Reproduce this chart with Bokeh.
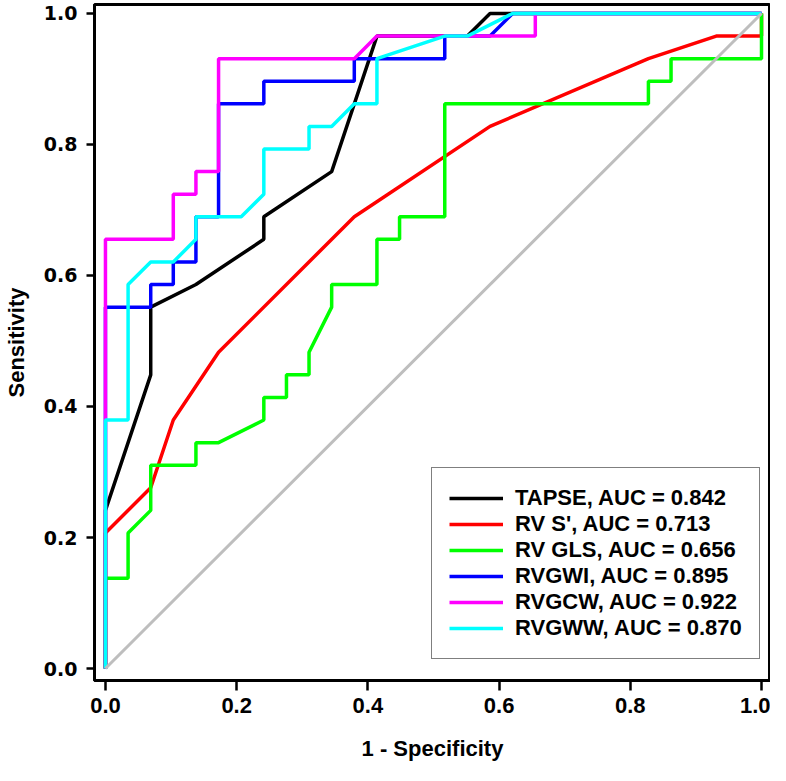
from bokeh.plotting import figure
from bokeh.models import Legend, LegendItem, FixedTicker, Range1d, PrintfTickFormatter
from bokeh.embed import file_html
from bokeh.resources import INLINE

# ---- data ----
tapse_fpr = [0.0, 0.0, 0.069, 0.069, 0.1379, 0.2414, 0.2414, 0.3448, 0.4138, 0.5517, 0.5862, 1.0]
tapse_tpr = [0.0, 0.2414, 0.4483, 0.5517, 0.5862, 0.6552, 0.6897, 0.7586, 0.9655, 0.9655, 1.0, 1.0]

rvs_fpr = [0.0, 0.0, 0.069, 0.1034, 0.1724, 0.3793, 0.5862, 0.8276, 0.931, 1.0, 1.0]
rvs_tpr = [0.0, 0.2069, 0.2759, 0.3793, 0.4828, 0.6897, 0.8276, 0.931, 0.9655, 0.9655, 1.0]

gls_fpr = [0.0, 0.0, 0.0345, 0.0345, 0.069, 0.069, 0.1379, 0.1379, 0.1724, 0.2414, 0.2414,
           0.2759, 0.2759, 0.3103, 0.3103, 0.3448, 0.3448, 0.4138, 0.4138, 0.4483, 0.4483,
           0.5172, 0.5172, 0.8276, 0.8276, 0.8621, 0.8621, 1.0, 1.0]
gls_tpr = [0.0, 0.1379, 0.1379, 0.2069, 0.2414, 0.3103, 0.3103, 0.3448, 0.3448, 0.3793, 0.4138,
           0.4138, 0.4483, 0.4483, 0.4828, 0.5517, 0.5862, 0.5862, 0.6552, 0.6552, 0.6897,
           0.6897, 0.8621, 0.8621, 0.8966, 0.8966, 0.931, 0.931, 1.0]

gwi_fpr = [0.0, 0.0, 0.069, 0.069, 0.1034, 0.1034, 0.1379, 0.1379, 0.1724, 0.1724, 0.2414,
           0.2414, 0.3793, 0.3793, 0.5172, 0.5172, 0.5862, 0.6207, 1.0]
gwi_tpr = [0.0, 0.5517, 0.5517, 0.5862, 0.5862, 0.6207, 0.6207, 0.6897, 0.6897, 0.8621, 0.8621,
           0.8966, 0.8966, 0.931, 0.931, 0.9655, 0.9655, 1.0, 1.0]

gcw_fpr = [0.0, 0.0, 0.1034, 0.1034, 0.1379, 0.1379, 0.1724, 0.1724, 0.3793, 0.4138, 0.6552, 0.6552, 1.0]
gcw_tpr = [0.0, 0.6552, 0.6552, 0.7241, 0.7241, 0.7586, 0.7586, 0.931, 0.931, 0.9655, 0.9655, 1.0, 1.0]

gww_fpr = [0.0, 0.0, 0.0345, 0.0345, 0.069, 0.1034, 0.1379, 0.1379, 0.2069, 0.2414, 0.2414,
           0.3103, 0.3103, 0.3448, 0.3793, 0.4138, 0.4138, 0.5172, 0.5517, 0.6207, 1.0]
gww_tpr = [0.0, 0.3793, 0.3793, 0.5862, 0.6207, 0.6207, 0.6552, 0.6897, 0.6897, 0.7241, 0.7931,
           0.7931, 0.8276, 0.8276, 0.8621, 0.8621, 0.931, 0.9655, 0.9655, 1.0, 1.0]

ref_x = [0.0, 1.0]
ref_y = [0.0, 1.0]

labels = ["TAPSE, AUC = 0.842", "RV S', AUC = 0.713", "RV GLS, AUC = 0.656",
          "RVGWI, AUC = 0.895", "RVGCW, AUC = 0.922", "RVGWW, AUC = 0.870"]
colors = ["#000000", "#FF0000", "#00FF00", "#0000FF", "#FF00FF", "#00FFFF"]
ticks = [0.0, 0.2, 0.4, 0.6, 0.8, 1.0]

FONT = "Liberation Sans"

p = figure(width=770, height=765, output_backend="svg", toolbar_location=None,
           x_range=Range1d(-0.0167, 1.0137), y_range=Range1d(-0.0183, 1.0137),
           min_border_left=91, min_border_right=0, min_border_top=4, min_border_bottom=85)

p.grid.visible = False
p.outline_line_color = "black"
p.outline_line_width = 3

for ax in (p.xaxis[0], p.yaxis[0]):
    ax.ticker = FixedTicker(ticks=ticks)
    ax.formatter = PrintfTickFormatter(format="%.1f")
    ax.axis_line_width = 3
    ax.axis_line_color = "black"
    ax.major_tick_line_width = 2.5
    ax.major_tick_line_color = "black"
    ax.major_tick_in = 0
    ax.minor_tick_line_color = None
    ax.major_label_text_font_style = "bold"
    ax.major_label_text_color = "black"
    ax.axis_label_text_font = FONT
    ax.axis_label_text_font_style = "bold"
    ax.axis_label_text_color = "black"
    ax.axis_label_text_font_size = "22px"

p.xaxis.axis_label = "1 - Specificity"
p.yaxis.axis_label = "Sensitivity"
p.xaxis.major_tick_out = 10
p.yaxis.major_tick_out = 8
p.xaxis.major_label_text_font = FONT
p.xaxis.major_label_text_font_size = "22px"
p.yaxis.major_label_text_font = "DejaVu Sans"
p.yaxis.major_label_text_font_size = "19px"
p.xaxis.major_label_standoff = 7
p.yaxis.major_label_standoff = 9
p.xaxis.axis_label_standoff = 20
p.yaxis.axis_label_standoff = 12

series = [(tapse_fpr, tapse_tpr), (rvs_fpr, rvs_tpr), (gls_fpr, gls_tpr),
          (gwi_fpr, gwi_tpr), (gcw_fpr, gcw_tpr), (gww_fpr, gww_tpr)]
rends = []
for (xs, ys), c in zip(series, colors):
    r = p.line(xs, ys, line_color=c, line_width=3.5)
    rends.append(r)

p.line(ref_x, ref_y, line_color="#BEBEBE", line_width=3)

legend = Legend(items=[LegendItem(label=l, renderers=[r]) for l, r in zip(labels, rends)],
                location=(337, 21))
legend.label_text_font = FONT
legend.label_text_font_style = "bold"
legend.label_text_font_size = "22px"
legend.label_text_color = "black"
legend.glyph_width = 54
legend.glyph_height = 26
legend.label_height = 26
legend.spacing = 0
legend.padding = 17
legend.margin = 0
legend.label_standoff = 12
legend.border_line_color = "black"
legend.border_line_width = 1.5
legend.background_fill_alpha = 1.0
p.add_layout(legend)

open("out.html", "w").write(file_html(p, INLINE))
